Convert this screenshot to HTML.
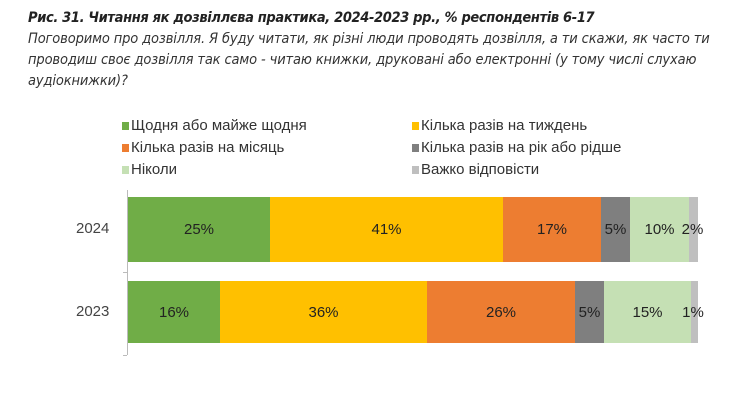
<!DOCTYPE html>
<html><head><meta charset="utf-8"><style>
body{margin:0;width:740px;height:407px;background:#fff;position:relative;overflow:hidden;font-family:"Liberation Sans",sans-serif}
.t{position:absolute;left:28px;font-style:italic;color:#333;font-size:14.5px;white-space:nowrap;font-family:"DejaVu Sans Condensed","Liberation Sans",sans-serif;letter-spacing:-0.12px}
.lg{position:absolute;font-size:15px;color:#333;white-space:nowrap}
.lg i{display:inline-block;width:7px;height:8px;margin-right:2px;vertical-align:0px}
.s{position:absolute;display:flex;align-items:center;justify-content:center;font-size:15px;color:#222}
.y{position:absolute;font-size:15px;color:#444}
</style></head><body>
<div class="t" style="top:10px;font-weight:bold;color:#222;letter-spacing:-0.35px">Рис. 31. Читання як дозвіллєва практика, 2024-2023 рр., % респондентів 6-17</div>
<div class="t" style="top:31px">Поговоримо про дозвілля. Я буду читати, як різні люди проводять дозвілля, а ти скажи, як часто ти</div>
<div class="t" style="top:52px">проводиш своє дозвілля так само - читаю книжки, друковані або електронні (у тому числі слухаю</div>
<div class="t" style="top:73px">аудіокнижки)?</div>

<div class="lg" style="left:122px;top:117px"><i style="background:#70ad47"></i>Щодня або майже щодня</div>
<div class="lg" style="left:412px;top:117px"><i style="background:#ffc000"></i>Кілька разів на тиждень</div>
<div class="lg" style="left:122px;top:139px"><i style="background:#ed7d31"></i>Кілька разів на місяць</div>
<div class="lg" style="left:412px;top:139px"><i style="background:#7f7f7f"></i>Кілька разів на рік або рідше</div>
<div class="lg" style="left:122px;top:161px"><i style="background:#c5e0b4"></i>Ніколи</div>
<div class="lg" style="left:412px;top:161px"><i style="background:#bfbfbf"></i>Важко відповісти</div>

<div style="position:absolute;left:127px;top:190px;width:1px;height:165px;background:#bbb"></div>
<div style="position:absolute;left:123px;top:272px;width:4px;height:1px;background:#bbb"></div>
<div style="position:absolute;left:123px;top:355px;width:4px;height:1px;background:#bbb"></div>

<div class="y" style="left:76px;top:220px">2024</div>
<div class="y" style="left:76px;top:303px">2023</div>

<div class="s" style="left:128px;top:197px;width:142px;height:65px;background:#70ad47">25%</div>
<div class="s" style="left:270px;top:197px;width:233px;height:65px;background:#ffc000">41%</div>
<div class="s" style="left:503px;top:197px;width:98px;height:65px;background:#ed7d31">17%</div>
<div class="s" style="left:601px;top:197px;width:29px;height:65px;background:#7f7f7f">5%</div>
<div class="s" style="left:630px;top:197px;width:59px;height:65px;background:#c5e0b4">10%</div>
<div class="s" style="left:689px;top:197px;width:9px;height:65px;background:#bfbfbf"><span style="margin-left:-2px">2%</span></div>

<div class="s" style="left:128px;top:281px;width:92px;height:62px;background:#70ad47">16%</div>
<div class="s" style="left:220px;top:281px;width:207px;height:62px;background:#ffc000">36%</div>
<div class="s" style="left:427px;top:281px;width:148px;height:62px;background:#ed7d31">26%</div>
<div class="s" style="left:575px;top:281px;width:29px;height:62px;background:#7f7f7f">5%</div>
<div class="s" style="left:604px;top:281px;width:87px;height:62px;background:#c5e0b4">15%</div>
<div class="s" style="left:691px;top:281px;width:7px;height:62px;background:#bfbfbf"><span style="margin-left:-3px">1%</span></div>
</body></html>
